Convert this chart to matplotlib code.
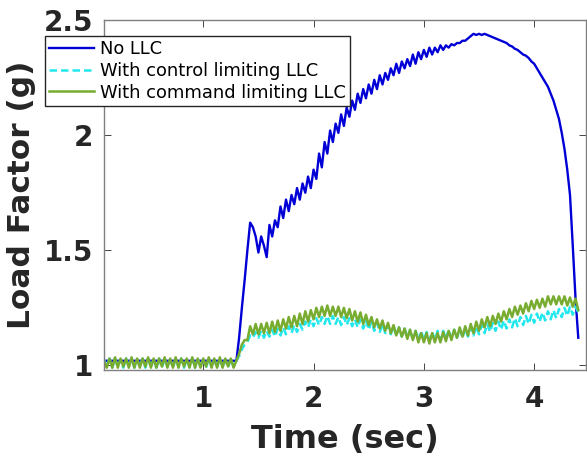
import numpy as np
import matplotlib
matplotlib.use("Agg")
import matplotlib.pyplot as plt

# time grids (sec)
t_blue = np.r_[0.10, np.round(np.arange(1.30, 4.4001, 0.025), 3)]
t_llc = np.round(np.arange(0.10, 4.4001, 0.025), 3)

# No LLC
load_no_llc = [
    1.02,
    1.02, 1.12, 1.25, 1.37, 1.50, 1.62, 1.60, 1.56, 1.49, 1.56,
    1.52, 1.47, 1.61, 1.56, 1.63, 1.60, 1.69, 1.64, 1.72, 1.67,
    1.74, 1.70, 1.77, 1.72, 1.79, 1.75, 1.82, 1.77, 1.85, 1.81,
    1.92, 1.86, 1.97, 1.92, 2.02, 1.97, 2.05, 2.01, 2.09, 2.04,
    2.12, 2.08, 2.15, 2.11, 2.18, 2.14, 2.20, 2.16, 2.22, 2.18,
    2.24, 2.20, 2.26, 2.22, 2.27, 2.24, 2.29, 2.26, 2.31, 2.27,
    2.32, 2.29, 2.33, 2.30, 2.35, 2.31, 2.36, 2.33, 2.37, 2.34,
    2.38, 2.35, 2.38, 2.36, 2.39, 2.37, 2.39, 2.38, 2.395, 2.39,
    2.40, 2.40, 2.41, 2.41, 2.42, 2.43, 2.44, 2.435, 2.44, 2.435,
    2.44, 2.435, 2.43, 2.425, 2.42, 2.415, 2.41, 2.405, 2.40, 2.39,
    2.385, 2.375, 2.37, 2.36, 2.35, 2.345, 2.335, 2.32, 2.31, 2.29,
    2.27, 2.25, 2.23, 2.21, 2.18, 2.15, 2.11, 2.07, 2.01, 1.94,
    1.85, 1.74, 1.52, 1.29, 1.12,
]

# With control limiting LLC
load_control = [
    1.025, 0.995, 1.03, 0.99, 1.03, 0.995, 1.025, 0.99, 1.03, 0.995,
    1.03, 0.99, 1.025, 0.995, 1.03, 0.99, 1.03, 0.995, 1.025, 0.99,
    1.03, 0.99, 1.03, 0.995, 1.025, 0.99, 1.03, 0.995, 1.03, 0.99,
    1.025, 0.995, 1.03, 0.99, 1.03, 0.995, 1.025, 0.99, 1.03, 0.995,
    1.025, 0.99, 1.03, 0.995, 1.025, 0.99, 1.03, 0.995, 1.02, 1.04,
    1.07, 1.09, 1.10, 1.13, 1.12, 1.145, 1.12, 1.15, 1.12, 1.15,
    1.125, 1.155, 1.125, 1.16, 1.13, 1.165, 1.135, 1.17, 1.14, 1.175,
    1.145, 1.18, 1.155, 1.19, 1.165, 1.20, 1.17, 1.205, 1.175, 1.21,
    1.18, 1.215, 1.18, 1.215, 1.18, 1.21, 1.175, 1.21, 1.175, 1.205,
    1.17, 1.20, 1.165, 1.20, 1.16, 1.195, 1.155, 1.19, 1.15, 1.185,
    1.145, 1.18, 1.14, 1.175, 1.135, 1.17, 1.13, 1.165, 1.125, 1.16,
    1.12, 1.155, 1.115, 1.15, 1.11, 1.15, 1.11, 1.145, 1.11, 1.145,
    1.11, 1.15, 1.11, 1.15, 1.115, 1.155, 1.115, 1.155, 1.12, 1.16,
    1.12, 1.16, 1.125, 1.165, 1.13, 1.17, 1.135, 1.175, 1.14, 1.18,
    1.145, 1.185, 1.15, 1.19, 1.155, 1.195, 1.16, 1.20, 1.165, 1.205,
    1.17, 1.21, 1.175, 1.215, 1.18, 1.22, 1.185, 1.225, 1.19, 1.23,
    1.195, 1.235, 1.20, 1.24, 1.205, 1.245, 1.21, 1.25, 1.215, 1.255,
    1.22, 1.255, 1.23,
]

# With command limiting LLC
load_command = [
    1.02, 0.99, 1.03, 0.99, 1.035, 0.99, 1.03, 0.995, 1.03, 0.99,
    1.035, 0.99, 1.03, 0.99, 1.03, 0.995, 1.035, 0.99, 1.03, 0.99,
    1.03, 0.995, 1.035, 0.99, 1.03, 0.99, 1.035, 0.99, 1.03, 0.995,
    1.03, 0.99, 1.035, 0.99, 1.03, 0.99, 1.03, 0.995, 1.035, 0.99,
    1.03, 0.99, 1.035, 0.99, 1.03, 0.995, 1.03, 0.99, 1.02, 1.05,
    1.09, 1.11, 1.11, 1.17, 1.135, 1.18, 1.135, 1.18, 1.14, 1.185,
    1.14, 1.19, 1.145, 1.195, 1.15, 1.20, 1.16, 1.21, 1.165, 1.215,
    1.17, 1.225, 1.18, 1.235, 1.19, 1.24, 1.20, 1.25, 1.21, 1.255,
    1.215, 1.26, 1.215, 1.255, 1.215, 1.255, 1.21, 1.25, 1.205, 1.245,
    1.195, 1.235, 1.19, 1.23, 1.18, 1.22, 1.175, 1.21, 1.165, 1.20,
    1.16, 1.195, 1.15, 1.185, 1.14, 1.175, 1.13, 1.165, 1.125, 1.16,
    1.115, 1.155, 1.11, 1.15, 1.10, 1.14, 1.10, 1.14, 1.095, 1.14,
    1.10, 1.14, 1.10, 1.145, 1.105, 1.15, 1.11, 1.155, 1.12, 1.165,
    1.125, 1.17, 1.13, 1.18, 1.14, 1.19, 1.15, 1.20, 1.165, 1.21,
    1.17, 1.215, 1.18, 1.225, 1.19, 1.235, 1.20, 1.245, 1.21, 1.255,
    1.22, 1.26, 1.225, 1.27, 1.235, 1.28, 1.245, 1.285, 1.25, 1.29,
    1.255, 1.30, 1.265, 1.30, 1.265, 1.30, 1.265, 1.30, 1.26, 1.295,
    1.255, 1.29, 1.24,
]

x_ticks = [1, 2, 3, 4]
y_ticks = [1, 1.5, 2, 2.5]
y_tick_labels = ["1", "1.5", "2", "2.5"]

axis_color = "#262626"

fig = plt.figure(figsize=(5.87, 4.57), dpi=100)
ax = fig.add_axes([104 / 587, 1 - 370 / 457, 482 / 587, 350 / 457])

ax.plot(t_blue, load_no_llc, color="#0000d6", lw=1.7, label="No LLC")
ax.plot(t_llc, load_control, color="#22e8ee", lw=1.8, ls=(0, (3, 1.6)),
        label="With control limiting LLC")
ax.plot(t_llc, load_command, color="#77ac30", lw=1.8,
        label="With command limiting LLC")

ax.set_xlim(0.1, 4.47)
ax.set_ylim(0.98, 2.5)
ax.set_xticks(x_ticks)
ax.set_xticklabels([str(v) for v in x_ticks])
ax.set_yticks(y_ticks)
ax.set_yticklabels(y_tick_labels)

ax.tick_params(direction="in", length=5, width=0.6, color=axis_color,
               top=True, right=True, labelsize=20, labelcolor=axis_color)
ax.tick_params(axis="x", pad=11)
ax.tick_params(axis="y", pad=8)
for lbl in ax.get_xticklabels() + ax.get_yticklabels():
    lbl.set_fontweight("bold")
for sp in ax.spines.values():
    sp.set_color("#7f7f7f")
    sp.set_linewidth(1.0)

ax.set_xlabel("Time (sec)", fontsize=23, fontweight="bold", color=axis_color,
              labelpad=8)
ax.set_ylabel("Load Factor (g)", fontsize=22.5, fontweight="bold",
              color=axis_color, labelpad=5)

leg = ax.legend(loc="upper left", bbox_to_anchor=(45 / 587, 1 - 36 / 457),
                bbox_transform=fig.transFigure, borderaxespad=0,
                fontsize=12.9, frameon=True, fancybox=False,
                handlelength=2.5, handletextpad=0.3, borderpad=0.25,
                labelspacing=0.2)
leg.get_frame().set_edgecolor(axis_color)
leg.get_frame().set_linewidth(1.0)
leg.get_frame().set_alpha(1)

fig.savefig("out.png", dpi=100)
